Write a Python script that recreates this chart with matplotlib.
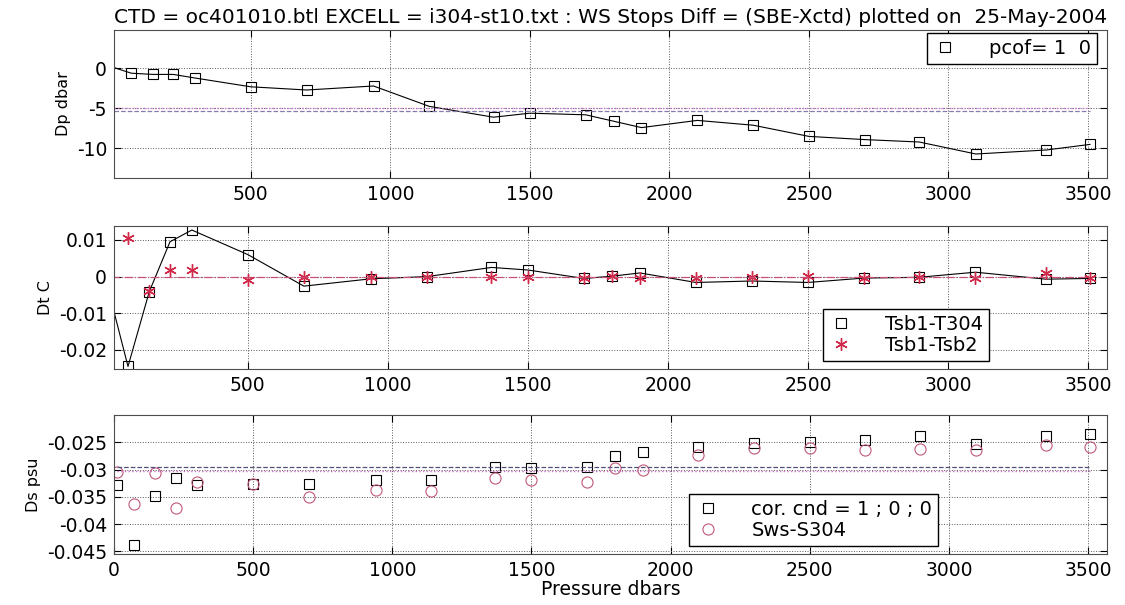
import numpy as np
import matplotlib
matplotlib.use('Agg')
import matplotlib.pyplot as plt

plt.rcParams['font.family'] = 'DejaVu Sans'
plt.rcParams['axes.unicode_minus'] = False

# station pressures (dbar)
pres = [10, 72, 148, 222, 300, 500, 700, 940, 1140, 1370, 1500, 1700, 1800,
        1900, 2100, 2300, 2500, 2700, 2895, 3098, 3350, 3507]

# pressure difference (top)
dp = [0.1, -0.6, -0.75, -0.75, -1.2, -2.3, -2.7, -2.2, -4.75, -6.1, -5.6, -5.8,
      -6.6, -7.4, -6.5, -7.1, -8.5, -8.9, -9.2, -10.7, -10.2, -9.5]
dp_mean = -5.35
dp_ref = -4.95

# temperature differences (middle)
dt_t304 = [-0.006, -0.0245, -0.0041, 0.0095, 0.0127, 0.006, -0.0026, -0.0006,
           0.0, 0.0025, 0.0018, -0.0005, 0.0001, 0.001, -0.0016, -0.0012,
           -0.0016, -0.0004, -0.0002, 0.0012, -0.0007, -0.0005]
dt_tsb2 = [np.nan, 0.0104, -0.004, 0.0018, 0.0019, -0.001, -0.0001, 0.0, 0.0,
           0.0, 0.0, -0.0003, 0.0002, -0.0003, -0.0005, 0.0, 0.0002, -0.0003,
           -0.0001, -0.0003, 0.0011, -0.0005]
dt_ref = 0.0

# salinity differences (bottom)
ds_cor = [-0.0329, -0.0439, -0.0349, -0.0315, -0.0329, -0.0326, -0.0326,
          -0.0319, -0.0319, -0.0295, -0.0298, -0.0295, -0.0276, -0.0267,
          -0.0258, -0.0251, -0.0249, -0.0246, -0.0238, -0.0254, -0.0238, -0.0235]
ds_sws = [-0.0304, -0.0363, -0.0306, -0.0371, -0.0322, -0.0326, -0.035,
          -0.0337, -0.0339, -0.0316, -0.0319, -0.0323, -0.0298, -0.0301,
          -0.0273, -0.026, -0.026, -0.0264, -0.0262, -0.0265, -0.0255, -0.0258]
ds_mean = -0.0295
ds_ref = -0.0302

xticks_top = [500, 1000, 1500, 2000, 2500, 3000, 3500]
xticks_bot = [0, 500, 1000, 1500, 2000, 2500, 3000, 3500]
yticks_dp = [0, -5, -10]
ylabels_dp = ['0', '-5', '-10']
yticks_dt = [0.01, 0, -0.01, -0.02]
ylabels_dt = ['0.01', '0', '-0.01', '-0.02']
yticks_ds = [-0.025, -0.03, -0.035, -0.04, -0.045]
ylabels_ds = ['-0.025', '-0.03', '-0.035', '-0.04', '-0.045']

title = ('CTD = oc401010.btl EXCELL = i304-st10.txt : WS Stops Diff = '
         '(SBE-Xctd) plotted on  25-May-2004')

W, H = 1125, 605
fig = plt.figure(figsize=(W / 100, H / 100), dpi=100)

left = 114 / W
width = (1107 - 114) / W


def make_axes(top_px, bot_px):
    return fig.add_axes([left, 1 - bot_px / H, width, (bot_px - top_px) / H])


def style(ax):
    ax.grid(True, ls=':', color='0.35', lw=0.7)
    ax.tick_params(direction='in', top=True, right=True, length=5,
                   labelsize=13.5, pad=5)
    for s in ax.spines.values():
        s.set_color('0.3')
        s.set_linewidth(0.8)


sq = dict(marker='s', ls='none', mfc='none', mec='black', ms=7, mew=0.8)
leg = dict(fontsize=14, frameon=True, fancybox=False, edgecolor='black',
           framealpha=1, borderaxespad=0, handlelength=1.3,
           handletextpad=1.6, borderpad=0.3, labelspacing=0.1,
           bbox_transform=fig.transFigure, loc='upper right')

# top panel
ax1 = make_axes(30, 178)
ax1.plot(pres, dp, color='black', lw=0.8)
ax1.plot(pres[1:], dp[1:], label='pcof= 1  0', **sq)
ax1.hlines(dp_ref, pres[0], pres[-1], color='#d070d0', ls=':', lw=1.0)
ax1.hlines(dp_mean, pres[0], pres[-1], color='#8a7ab0', ls='--', lw=0.9)
ax1.set_xlim(10, 3568)
ax1.set_ylim(-13.7, 4.8)
ax1.set_xticks(xticks_top)
ax1.set_yticks(yticks_dp, ylabels_dp)
ax1.set_ylabel('Dp dbar', fontsize=11.5)
style(ax1)
ax1.legend(bbox_to_anchor=(1097 / W, 1 - 33 / H), **leg)
ax1.set_title(title, fontsize=14.5, pad=5)

# middle panel
ax2 = make_axes(226, 369)
ax2.plot(pres, dt_t304, color='black', lw=0.8)
ax2.plot(pres[1:], dt_t304[1:], label='Tsb1-T304', **sq)
ax2.plot(pres, dt_tsb2, marker=(6, 2, 0), ls='none', color='#d02848', ms=9,
         mew=1.0, label='Tsb1-Tsb2')
ax2.hlines(dt_ref, pres[0], pres[-1], color='#c85078', ls='-.', lw=0.9)
ax2.set_xlim(22, 3568)
ax2.set_ylim(-0.0252, 0.0138)
ax2.set_xticks(xticks_top)
ax2.set_yticks(yticks_dt, ylabels_dt)
ax2.set_ylabel('Dt C', fontsize=11.5)
style(ax2)
ax2.legend(bbox_to_anchor=(989 / W, 1 - 309 / H), **leg)

# bottom panel
ax3 = make_axes(415, 554)
ax3.plot(pres, ds_cor, label='cor. cnd = 1 ; 0 ; 0', **sq)
ax3.plot(pres, ds_sws, marker='o', ls='none', mfc='none', mec='#c05878',
         ms=8, mew=0.8, label='Sws-S304')
ax3.hlines(ds_mean, pres[0], pres[-1], color='#50507a', ls='--', lw=0.9)
ax3.hlines(ds_ref, pres[0], pres[-1], color='#d070d0', ls=':', lw=1.0)
ax3.set_xlim(0, 3568)
ax3.set_ylim(-0.0455, -0.020)
ax3.set_xticks(xticks_bot)
ax3.set_yticks(yticks_ds, ylabels_ds)
ax3.set_ylabel('Ds psu', fontsize=11.5)
ax3.set_xlabel('Pressure dbars', fontsize=13.5, labelpad=0)
style(ax3)
ax3.legend(bbox_to_anchor=(938 / W, 1 - 494 / H), **leg)

fig.savefig('out.png', dpi=100)
